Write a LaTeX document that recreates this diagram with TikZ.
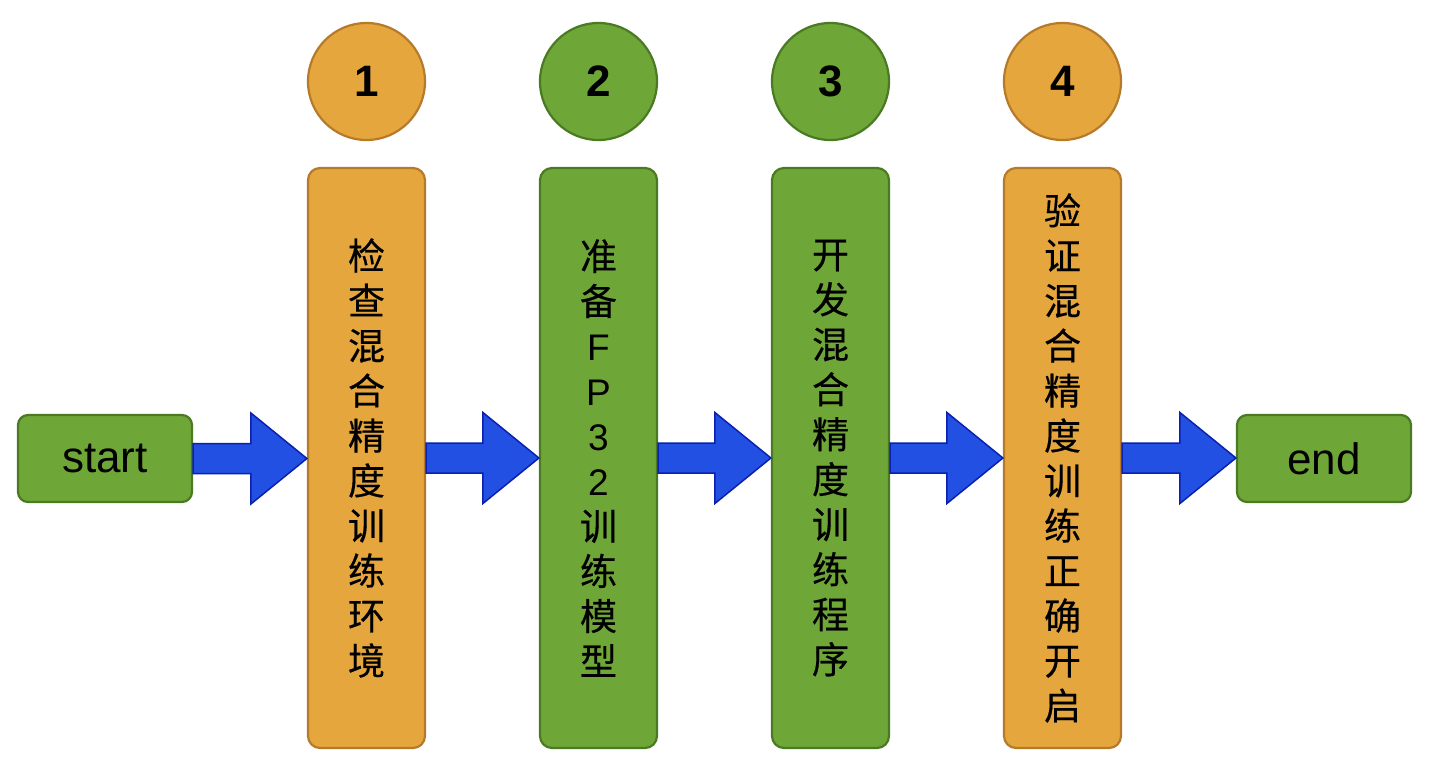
\documentclass[tikz,border=0pt]{standalone}
\usepackage{fontspec}
\setmainfont{Liberation Sans}
\newfontfamily\cjk[FakeBold=0.4]{Noto Sans CJK SC}
\usetikzlibrary{calc}
\definecolor{ofill}{HTML}{E6A63E}
\definecolor{odraw}{HTML}{B57A2A}
\definecolor{gfill}{HTML}{6FA638}
\definecolor{gdraw}{HTML}{4A7A22}
\definecolor{afill}{HTML}{2250E2}
\definecolor{adraw}{HTML}{0B20B0}
\newcommand{\blockarrow}[2]{%
  \draw[arrowshape] let \p1=(#1.east), \p2=(#2.west) in
    (\x1,\y1+15) -- (\x2-56,\y1+15) -- (\x2-56,\y1+45.5) -- (\x2,\y1)
    -- (\x2-56,\y1-45.5) -- (\x2-56,\y1-15) -- (\x1,\y1-15) -- cycle;}
\begin{document}
\begin{tikzpicture}[x=1pt,y=-1pt,
  orange/.style={fill=ofill,draw=odraw},
  green/.style={fill=gfill,draw=gdraw},
  endbox/.style={rounded corners=10pt,line width=2.2pt,minimum width=174pt,minimum height=87pt,inner sep=0pt,font=\fontsize{44}{52}\selectfont},
  column/.style={rounded corners=12pt,line width=2.2pt,minimum width=117pt,minimum height=580pt,inner sep=0pt,align=center,font=\cjk\fontsize{37}{45}\selectfont},
  numcircle/.style={circle,line width=2.2pt,minimum size=117pt,inner sep=0pt,font=\bfseries\fontsize{44}{52}\selectfont},
  arrowshape/.style={fill=afill,draw=adraw,line width=1.5pt,line join=miter}]
\useasboundingbox (0,0) rectangle (1430,773);
\node[endbox,green] (start) at (105,458.5) {start};
\node[endbox,green] (end) at (1324,458.5) {end};
\node[column,orange] (c1) at (366.5,458) {检\\查\\混\\合\\精\\度\\训\\练\\环\\境};
\node[column,green] (c2) at (598.5,458) {准\\备\\{\rmfamily F}\\{\rmfamily P}\\{\rmfamily 3}\\{\rmfamily 2}\\训\\练\\模\\型};
\node[column,green] (c3) at (830.5,458) {开\\发\\混\\合\\精\\度\\训\\练\\程\\序};
\node[column,orange] (c4) at (1062.5,458) {验\\证\\混\\合\\精\\度\\训\\练\\正\\确\\开\\启};
\node[numcircle,orange] (n1) at (366.5,81.5) {1};
\node[numcircle,green] (n2) at (598.5,81.5) {2};
\node[numcircle,green] (n3) at (830.5,81.5) {3};
\node[numcircle,orange] (n4) at (1062.5,81.5) {4};
\blockarrow{start}{c1}
\blockarrow{c1}{c2}
\blockarrow{c2}{c3}
\blockarrow{c3}{c4}
\blockarrow{c4}{end}
\end{tikzpicture}
\end{document}
